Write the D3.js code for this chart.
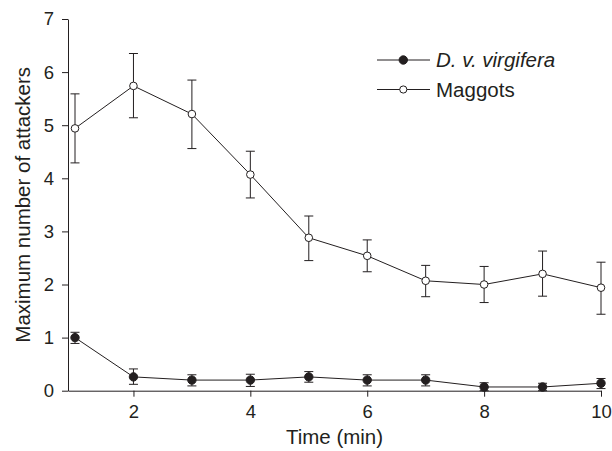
<!DOCTYPE html>
<html>
<head>
<meta charset="utf-8">
<script src="https://cdn.jsdelivr.net/npm/d3@7/dist/d3.min.js"></script>
<style>
  html, body { margin: 0; padding: 0; background: #fff; }
  svg { display: block; font-family: "Liberation Sans", Arial, Helvetica, sans-serif; }
</style>
</head>
<body>
<svg id="chart" width="612" height="451"></svg>
<script>
// ---- Data ----
const times = [1, 2, 3, 4, 5, 6, 7, 8, 9, 10];
const maggotsMean  = [4.94, 5.74, 5.21, 4.07, 2.88, 2.54, 2.07, 2.00, 2.20, 1.94];
const maggotsUpper = [5.59, 6.35, 5.85, 4.51, 3.29, 2.84, 2.36, 2.34, 2.63, 2.42];
const maggotsLower = [4.29, 5.14, 4.56, 3.63, 2.45, 2.24, 1.77, 1.66, 1.78, 1.44];
const dvvMean  = [1.00, 0.26, 0.20, 0.20, 0.26, 0.20, 0.20, 0.07, 0.07, 0.14];
const dvvUpper = [1.10, 0.41, 0.30, 0.31, 0.36, 0.30, 0.30, 0.15, 0.14, 0.23];
const dvvLower = [0.89, 0.12, 0.09, 0.08, 0.16, 0.09, 0.09, 0.00, 0.00, 0.04];
const xTicks = [2, 4, 6, 8, 10];
const yTicks = [0, 1, 2, 3, 4, 5, 6, 7];
const xTitle = "Time (min)";
const yTitle = "Maximum number of attackers";
const legendLabels = ["D. v. virgifera", "Maggots"];

// ---- Layout ----
const svg = d3.select("#chart");
const ink = "#231f20";
const plotLeft = 68, plotRight = 601, plotTop = 19, plotBottom = 390.7;

const x = d3.scaleLinear().domain([0.88, 10]).range([plotLeft, plotRight]);
const y = d3.scaleLinear().domain([0, 7]).range([plotBottom, plotTop]);

// Axes
const xAxis = d3.axisBottom(x).tickValues(xTicks).tickSizeInner(6).tickSizeOuter(0).tickPadding(8).tickFormat(d3.format("d"));
const yAxis = d3.axisLeft(y).tickValues(yTicks).tickSizeInner(6).tickSizeOuter(0).tickPadding(8).tickFormat(d3.format("d"));

const gx = svg.append("g").attr("transform", `translate(0,${plotBottom})`).call(xAxis);
const gy = svg.append("g").attr("transform", `translate(${plotLeft},0)`).call(yAxis);
[gx, gy].forEach(g => {
  g.selectAll("path, line").attr("stroke", ink).attr("stroke-width", 1);
  g.selectAll("text").attr("fill", ink).style("font-size", "18.5px").style("font-family", "\"Liberation Sans\", Arial, sans-serif");
});

// Titles
svg.append("text")
  .attr("x", (plotLeft + plotRight) / 2).attr("y", 444)
  .attr("text-anchor", "middle").attr("fill", ink)
  .style("font-size", "20.5px")
  .text(xTitle);

svg.append("text")
  .attr("transform", `translate(29.5,${(plotTop + plotBottom) / 2}) rotate(-90)`)
  .attr("text-anchor", "middle").attr("fill", ink)
  .style("font-size", "20.5px")
  .text(yTitle);

// Series
function drawSeries(mean, upper, lower, filled) {
  const g = svg.append("g");
  const line = d3.line().x((d, i) => x(times[i])).y(d => y(d));
  g.append("path").datum(mean).attr("d", line)
    .attr("fill", "none").attr("stroke", ink).attr("stroke-width", 1);
  const cap = 4.5;
  const eb = g.selectAll("g.eb").data(times).join("g").attr("class", "eb");
  eb.append("line")
    .attr("x1", d => x(d)).attr("x2", d => x(d))
    .attr("y1", (d, i) => y(upper[i])).attr("y2", (d, i) => y(lower[i]))
    .attr("stroke", ink).attr("stroke-width", 1);
  eb.append("line")
    .attr("x1", d => x(d) - cap).attr("x2", d => x(d) + cap)
    .attr("y1", (d, i) => y(upper[i])).attr("y2", (d, i) => y(upper[i]))
    .attr("stroke", ink).attr("stroke-width", 1);
  eb.append("line")
    .attr("x1", d => x(d) - cap).attr("x2", d => x(d) + cap)
    .attr("y1", (d, i) => y(lower[i])).attr("y2", (d, i) => y(lower[i]))
    .attr("stroke", ink).attr("stroke-width", 1);
  g.selectAll("circle").data(mean).join("circle")
    .attr("cx", (d, i) => x(times[i])).attr("cy", d => y(d))
    .attr("r", filled ? 4.2 : 3.8)
    .attr("fill", filled ? ink : "#fff")
    .attr("stroke", ink).attr("stroke-width", 1);
}
drawSeries(maggotsMean, maggotsUpper, maggotsLower, false);
drawSeries(dvvMean, dvvUpper, dvvLower, true);

// Legend
const legendRows = [
  { label: legendLabels[0], filled: true, italic: true, y: 60 },
  { label: legendLabels[1], filled: false, italic: false, y: 89.5 }
];
const lg = svg.append("g");
legendRows.forEach(r => {
  lg.append("line").attr("x1", 377).attr("x2", 430).attr("y1", r.y).attr("y2", r.y)
    .attr("stroke", ink).attr("stroke-width", 1);
  lg.append("circle").attr("cx", 403.3).attr("cy", r.y)
    .attr("r", r.filled ? 4.2 : 3.6)
    .attr("fill", r.filled ? ink : "#fff").attr("stroke", ink).attr("stroke-width", 1);
  lg.append("text").attr("x", 436).attr("y", r.y).attr("dy", "0.36em")
    .attr("fill", ink).style("font-size", "20.5px")
    .style("font-style", r.italic ? "italic" : "normal")
    .text(r.label);
});
</script>
</body>
</html>
